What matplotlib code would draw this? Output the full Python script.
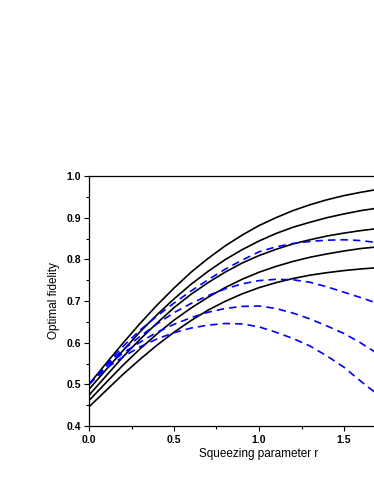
"""Optimal fidelity vs squeezing parameter r (solid: black, dashed: blue)."""
import matplotlib
matplotlib.use("Agg")
import matplotlib.pyplot as plt
from matplotlib.ticker import MultipleLocator

plt.rcParams["font.family"] = ["Liberation Sans", "DejaVu Sans"]

# squeezing parameter r (sampled every 0.1)
r = [0.0, 0.1, 0.2, 0.3, 0.4, 0.5, 0.6, 0.7, 0.8, 0.9,
     1.0, 1.1, 1.2, 1.3, 1.4, 1.5, 1.6, 1.7, 1.8]

# solid black curves
solid_1 = [0.500, 0.550, 0.599, 0.646, 0.690, 0.731, 0.769, 0.802, 0.832, 0.858,
           0.881, 0.900, 0.917, 0.931, 0.943, 0.953, 0.961, 0.968, 0.973]
solid_2 = [0.488, 0.535, 0.581, 0.626, 0.667, 0.705, 0.740, 0.771, 0.799, 0.823,
           0.844, 0.862, 0.877, 0.889, 0.900, 0.909, 0.917, 0.923, 0.928]
solid_3 = [0.474, 0.520, 0.566, 0.608, 0.647, 0.684, 0.716, 0.744, 0.769, 0.791,
           0.809, 0.824, 0.837, 0.847, 0.856, 0.863, 0.869, 0.874, 0.877]
solid_4 = [0.461, 0.504, 0.546, 0.585, 0.621, 0.654, 0.683, 0.709, 0.732, 0.752,
           0.769, 0.783, 0.795, 0.805, 0.813, 0.820, 0.826, 0.830, 0.834]
solid_5 = [0.446, 0.485, 0.524, 0.560, 0.594, 0.625, 0.653, 0.678, 0.699, 0.717,
           0.732, 0.744, 0.754, 0.762, 0.768, 0.773, 0.777, 0.780, 0.783]

# dashed blue curves
dash_a = [0.500, 0.547, 0.591, 0.630, 0.664, 0.695, 0.724, 0.751, 0.776, 0.798,
          0.818, 0.830, 0.838, 0.843, 0.846, 0.847, 0.845, 0.840, 0.833]
dash_b = [0.500, 0.545, 0.583, 0.615, 0.645, 0.672, 0.694, 0.713, 0.729, 0.741,
          0.749, 0.752, 0.751, 0.745, 0.734, 0.721, 0.708, 0.694, 0.678]
dash_c = [0.500, 0.543, 0.575, 0.601, 0.625, 0.644, 0.660, 0.673, 0.682, 0.687,
          0.688, 0.682, 0.671, 0.657, 0.640, 0.622, 0.599, 0.573, 0.545]
dash_d = [0.500, 0.538, 0.566, 0.590, 0.609, 0.624, 0.635, 0.642, 0.646, 0.645,
          0.638, 0.625, 0.610, 0.592, 0.568, 0.541, 0.507, 0.475, 0.440]

fig = plt.figure(figsize=(3.74, 4.84), dpi=100)
# axes runs past the right edge of the figure, as in the reference
ax = fig.add_axes([89 / 374, 58 / 484, 340 / 374, 250 / 484])

for ys in (solid_1, solid_2, solid_3, solid_4, solid_5):
    ax.plot(r, ys, color="black", lw=1.2)
for ys in (dash_a, dash_b, dash_c, dash_d):
    ax.plot(r, ys, color="#0000ff", lw=1.2, dashes=(4.5, 3))

ax.set_xlim(0, 2.0)
ax.set_ylim(0.4, 1.0)
ax.xaxis.set_major_locator(MultipleLocator(0.5))
ax.xaxis.set_minor_locator(MultipleLocator(0.25))
ax.yaxis.set_major_locator(MultipleLocator(0.1))
ax.yaxis.set_minor_locator(MultipleLocator(0.05))
# labels past the figure edge are not shown
ax.xaxis.set_major_formatter(lambda v, p: f"{v:.1f}" if v < 1.6 else "")
ax.yaxis.set_major_formatter(lambda v, p: f"{v:.1f}")

ax.tick_params(which="major", direction="out", length=3.5, width=0.8,
               labelsize=7.5, pad=2)
ax.tick_params(which="minor", direction="out", length=2, width=0.8)
ax.tick_params(axis="x", which="major", pad=3)
for lab in ax.get_xticklabels() + ax.get_yticklabels():
    lab.set_fontweight("bold")
for sp in ax.spines.values():
    sp.set_linewidth(0.9)

ax.set_xlabel("Squeezing parameter r", fontsize=8.5, labelpad=2)
ax.set_ylabel("Optimal fidelity", fontsize=8.5, labelpad=5)

fig.savefig("out.png", dpi=100)
plt.close(fig)
